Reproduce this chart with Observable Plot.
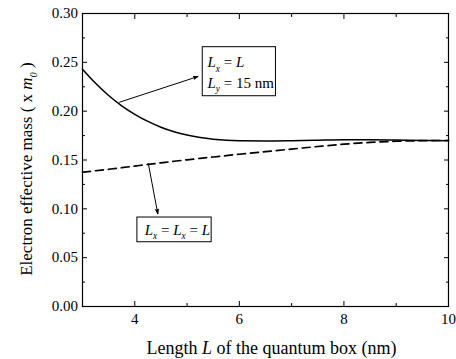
<!DOCTYPE html>
<html><head><meta charset="utf-8">
<script src="https://cdn.jsdelivr.net/npm/d3@7"></script>
<script src="https://cdn.jsdelivr.net/npm/@observablehq/plot@0.6"></script>
<style>
body{margin:0;background:#fff}
svg, svg text{font-family:"Liberation Serif","Times New Roman",serif !important}
</style>
</head><body><div id="chart"></div>
<script>
// Length L of the quantum box (nm)
const lengths = [3, 3.25, 3.5, 3.75, 4, 4.25, 4.5, 4.75, 5, 5.25, 5.5, 5.75, 6, 6.5, 7, 7.5, 8, 8.5, 9, 9.5, 10];
// Lx = L, Ly = 15 nm (solid)
const massRect = [0.243, 0.2285, 0.2160, 0.2055, 0.1968, 0.1895, 0.1836, 0.1790, 0.1755, 0.1730, 0.1713, 0.1702, 0.1697, 0.1695, 0.1698, 0.1703, 0.1707, 0.1707, 0.1704, 0.1700, 0.1698];
// Lx = Ly = L (dashed)
const massCube = [0.1375, 0.1390, 0.1405, 0.1421, 0.1438, 0.1455, 0.1471, 0.1487, 0.1502, 0.1517, 0.1531, 0.1545, 0.1559, 0.1586, 0.1612, 0.1638, 0.1662, 0.1680, 0.1692, 0.1698, 0.1700];

const xMajor = [4, 6, 8, 10];
const xMinor = [3, 5, 7, 9];
const yMajor = [0, 0.05, 0.10, 0.15, 0.20, 0.25, 0.30];
const yMinor = [0.025, 0.075, 0.125, 0.175, 0.225, 0.275];

const xTitle = "Length <i>L</i> of the quantum box (nm)";
const yTitle = "Electron effective mass ( x <i>m</i><si>0</si> )";

// annotation boxes (data units)
const boxes = [
  {x1: 5.30, x2: 6.70, y1: 0.2153, y2: 0.2655},
  {x1: 4.05, x2: 5.47, y1: 0.0658, y2: 0.0911}
];
const boxLines = [
  {x: 5.39, y: 0.2498, t: "<i>L</i><sub>x</sub> = <i>L</i>"},
  {x: 5.39, y: 0.2290, t: "<i>L</i><sub>y</sub> = 15 nm"},
  {x: 4.19, y: 0.0785, t: "<i>L</i><sub>x</sub> = <i>L</i><sub>x</sub> = <i>L</i>"}
];
const arrows = [
  {x1: 3.71, y1: 0.2092, x2: 5.21, y2: 0.2355},
  {x1: 4.26, y1: 0.1460, x2: 4.44, y2: 0.0949}
];

const rectData = lengths.map((L, i) => ({L, m: massRect[i]}));
const cubeData = lengths.map((L, i) => ({L, m: massCube[i]}));

const fmt2 = d3.format(".2f");
const serif = "'Liberation Serif','Times New Roman',serif";

const plot = Plot.plot({
  width: 456,
  height: 359,
  marginLeft: 82,
  marginRight: 8,
  marginTop: 13,
  marginBottom: 53,
  style: {fontFamily: serif, fontSize: "15px", color: "#000", background: "#fff"},
  x: {domain: [3, 10]},
  y: {domain: [0, 0.30]},
  marks: [
    Plot.axisX(xMajor, {anchor: "bottom", tickSize: -5, tickPadding: 12, label: null, fontSize: 15, fontFamily: serif, tickFormat: d => String(d)}),
    Plot.axisX(xMinor, {anchor: "bottom", tickSize: -3, text: null, label: null}),
    Plot.axisX(xMajor, {anchor: "top", tickSize: -5, text: null, label: null}),
    Plot.axisX(xMinor, {anchor: "top", tickSize: -3, text: null, label: null}),
    Plot.axisY(yMajor, {anchor: "left", tickSize: -5, tickPadding: 9.5, label: null, fontSize: 15, fontFamily: serif, tickFormat: fmt2}),
    Plot.axisY(yMinor, {anchor: "left", tickSize: -3, text: null, label: null}),
    Plot.axisY(yMajor, {anchor: "right", tickSize: -5, text: null, label: null}),
    Plot.axisY(yMinor, {anchor: "right", tickSize: -3, text: null, label: null}),
    Plot.frame({stroke: "#000", strokeWidth: 1.2}),
    Plot.line(rectData, {x: "L", y: "m", stroke: "#000", strokeWidth: 1.5, curve: "monotone-x"}),
    Plot.line(cubeData, {x: "L", y: "m", stroke: "#000", strokeWidth: 1.7, strokeDasharray: "8,5", curve: "monotone-x"}),
    Plot.rect(boxes, {x1: "x1", x2: "x2", y1: "y1", y2: "y2", fill: "#fff", stroke: "#000", strokeWidth: 1}),
    Plot.arrow(arrows, {x1: "x1", y1: "y1", x2: "x2", y2: "y2", stroke: "#000", fill: "#000", strokeWidth: 1, headLength: 7, headAngle: 35, bend: 0}),
    Plot.text(boxLines, {x: "x", y: "y", text: "t", textAnchor: "start", lineAnchor: "middle", fontSize: 15, fontFamily: serif, fill: "#000"}),
    Plot.text([xTitle], {frameAnchor: "bottom", dx: 6, dy: 47, lineAnchor: "bottom", textAnchor: "middle", fontSize: 18, fontFamily: serif, fill: "#000"}),
    Plot.text([yTitle], {frameAnchor: "left", dx: -51, dy: 9, rotate: -90, lineAnchor: "bottom", textAnchor: "middle", fontSize: 17, fontFamily: serif, fill: "#000"})
  ]
});

// convert simple markup (<i>, <sub>, <si>) into SVG tspans
function richify(el) {
  const raw = el.textContent;
  if (!/<(i|sub|si)>/.test(raw)) return;
  const fs = parseFloat(getComputedStyle(el).fontSize) || 15;
  const parts = raw.split(/(<i>.*?<\/i>|<sub>.*?<\/sub>|<si>.*?<\/si>)/).filter(s => s.length);
  el.textContent = "";
  const ns = "http://www.w3.org/2000/svg";
  let shifted = 0;
  for (const p of parts) {
    const ts = document.createElementNS(ns, "tspan");
    let m;
    let want = 0;
    if ((m = p.match(/^<i>(.*)<\/i>$/))) {
      ts.textContent = m[1];
      ts.setAttribute("font-style", "italic");
    } else if ((m = p.match(/^<sub>(.*)<\/sub>$/)) || (m = p.match(/^<si>(.*)<\/si>$/))) {
      ts.textContent = m[1];
      ts.setAttribute("font-size", (fs * 0.62) + "px");
      ts.setAttribute("font-style", "italic");
      want = fs * 0.3;
    } else {
      ts.textContent = p;
    }
    const d = want - shifted;
    if (d !== 0) ts.setAttribute("dy", d + "px");
    shifted = want;
    el.appendChild(ts);
  }
}
document.getElementById("chart").appendChild(plot);
plot.querySelectorAll("text").forEach(richify);
</script>
</body></html>
